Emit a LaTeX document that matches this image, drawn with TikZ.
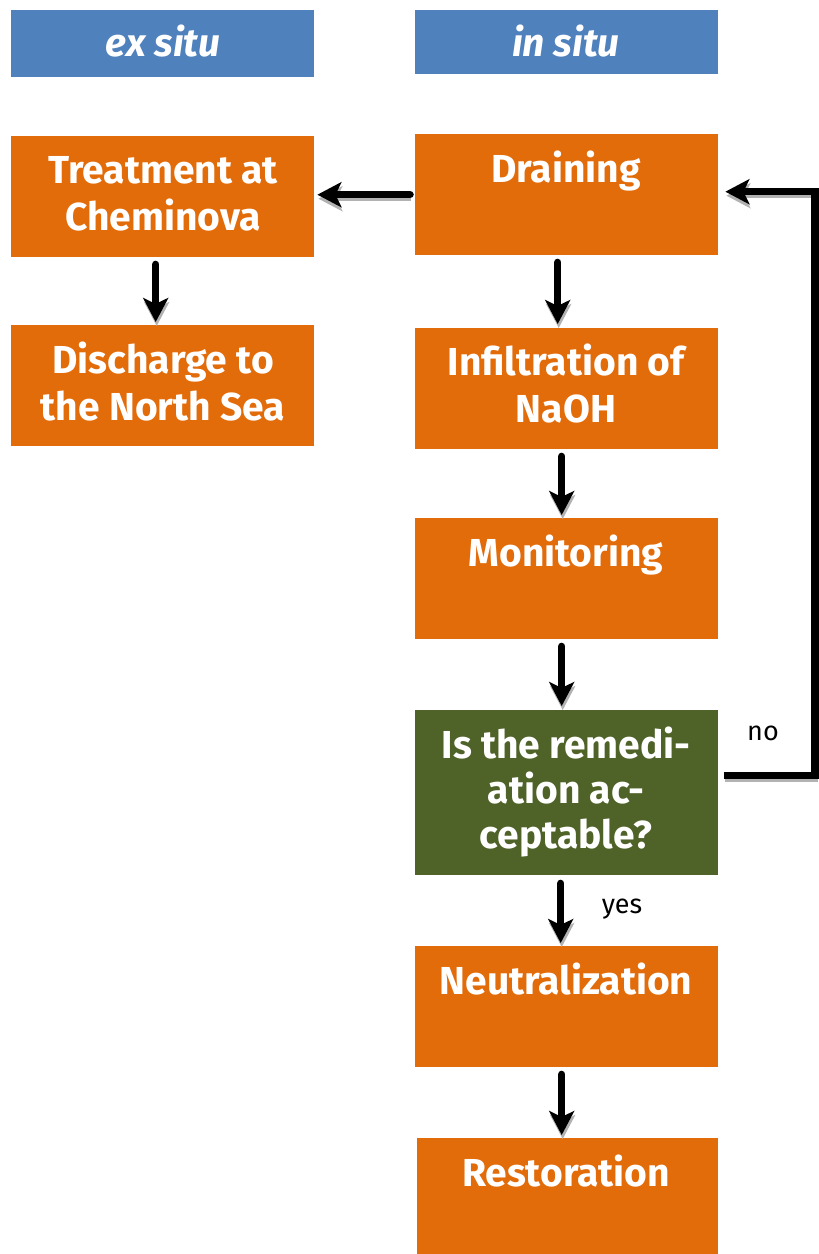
\documentclass[tikz,border=0pt]{standalone}
\usepackage{fontspec}
\setmainfont{Fira Sans}
\usetikzlibrary{arrows.meta,calc}
\definecolor{orangeC}{HTML}{E36C0A}
\definecolor{blueC}{HTML}{4F81BD}
\definecolor{greenC}{HTML}{4F6228}
\newcommand\topstrut{\rule{0pt}{30pt}}
\tikzset{
  box/.style={rectangle, fill=orangeC, minimum width=303pt, minimum height=121pt, inner sep=0pt, anchor=north west},
  hdr/.style={rectangle, fill=blueC, minimum width=303pt, inner sep=0pt, anchor=north west},
  txt/.style={text=white, font=\bfseries\fontsize{39}{47}\selectfont, align=center, anchor=north, inner sep=0pt},
  htxt/.style={text=white, font=\bfseries\itshape\fontsize{39}{44}\selectfont, anchor=base, inner sep=0pt},
  small/.style={text=black, font=\fontsize{27}{30}\selectfont, anchor=base, inner sep=0pt},
  arr/.style={line width=7.5pt, line join=miter, -{Stealth[length=24pt,width=25pt,inset=6pt]},
    preaction={draw=black!30, line width=4pt, transform canvas={shift={(1pt,-4pt)}}}},
}
\begin{document}
\begin{tikzpicture}[x=1pt,y=-1pt]
\useasboundingbox (0,0) rectangle (819,1254);
% headers
\node[hdr, minimum height=67pt] (hex) at (11,10) {};
\node[hdr, minimum height=64pt] (hin) at (415,10) {};
\node[htxt] (hext) at (163,56) {ex situ};
\node[htxt] (hint) at (566,56) {in situ};
% boxes
\node[box] (treat) at (11,136) {};
\node[box] (disch) at (11,325) {};
\node[box] (drain) at (415,134) {};
\node[box] (infil) at (415,328) {};
\node[box] (monit) at (415,518) {};
\node[box, fill=greenC, minimum height=165pt] (decis) at (415,710) {};
\node[box] (neutr) at (415,946) {};
\node[box, minimum width=301pt, minimum height=116pt] (resto) at (417,1138) {};
% texts (north = first baseline - 30)
\node[txt] (treatt) at (163,153) {\topstrut Treatment at\\Cheminova};
\node[txt] (discht) at (163,342) {\topstrut Discharge to\\the North Sea};
\node[txt] (draint) at (566,151) {\topstrut Draining};
\node[txt] (infilt) at (566,344) {\topstrut Infiltration of\\NaOH};
\node[txt] (monitt) at (566,535) {\topstrut Monitoring};
\node[txt, font=\bfseries\fontsize{39}{45}\selectfont] (decist) at (566,727) {\topstrut Is the remedi-\\ation ac-\\ceptable?};
\node[txt] (neutrt) at (566,963) {\topstrut Neutralization};
\node[txt] (restot) at (566,1155) {\topstrut Restoration};
% labels
\node[small] (no) at (763,740) {no};
\node[small] (yes) at (622,913) {yes};
% arrows (yshift is in page points: positive = up)
\draw[arr, line cap=round] (drain.west) ++(-5,0) -- ([xshift=3pt]drain.west -| treat.east);
\draw[arr, line cap=round] ([xshift=-7pt]treat.south) ++(0,7) -- ([xshift=-7pt,yshift=3pt]treat.south |- disch.north);
\draw[arr, line cap=round] ([xshift=-9pt]drain.south) ++(0,7) -- ([xshift=-9pt,yshift=4pt]drain.south |- infil.north);
\draw[arr, line cap=round] ([xshift=-5pt]infil.south) ++(0,7) -- ([xshift=-5pt,yshift=3pt]infil.south |- monit.north);
\draw[arr, line cap=round] ([xshift=-5pt]monit.south) ++(0,7) -- ([xshift=-5pt,yshift=4pt]monit.south |- decis.north);
\draw[arr, line cap=round] ([xshift=-6pt]decis.south) ++(0,8) -- ([xshift=-6pt,yshift=3pt]decis.south |- neutr.north);
\draw[arr, line cap=round] ([xshift=-5pt]neutr.south) ++(0,7) -- ([xshift=-5pt,yshift=3pt]neutr.south |- resto.north);
\coordinate (fbk) at (815,775.5);
\draw[arr] (decis.east |- fbk) ++(6,0) -| (fbk) |- ([xshift=7pt,yshift=3pt]drain.east);
\end{tikzpicture}
\end{document}
